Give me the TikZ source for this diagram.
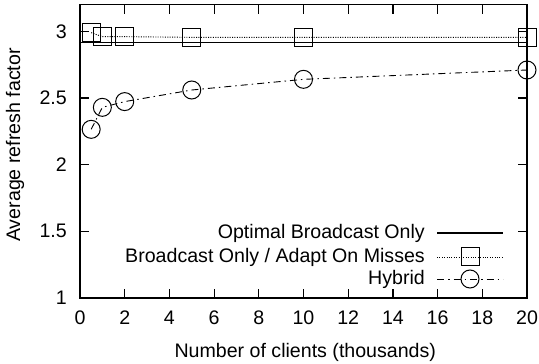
\documentclass[tikz,border=0pt]{standalone}
\usepackage{fontspec}
\setmainfont{Liberation Sans}
\usetikzlibrary{calc}
\tikzset{
  axisline/.style={line width=1.4pt, line join=miter},
  tickline/.style={line width=1.2pt},
  optline/.style={line width=1.2pt},
  dotline/.style={line width=0.9pt, dash pattern=on 1pt off 1.4pt},
  dashdotline/.style={line width=0.9pt, dash pattern=on 7pt off 4pt on 1.5pt off 4pt},
  sqmark/.style={draw, line width=1pt, rectangle, minimum size=18pt, inner sep=0pt},
  cirmark/.style={draw, line width=1pt, circle, minimum size=18pt, inner sep=0pt},
  lbl/.style={inner sep=0pt, font=\fontsize{19.6}{23}\selectfont},
}
\begin{document}
\begin{tikzpicture}
\useasboundingbox (0,0) rectangle (539pt,364pt);
\begin{scope}[x=22.35pt, y=133.33pt, shift={(80pt,-67.33pt)}]
  % frame
  \draw[axisline] (0,1) rectangle (20,3.2);
  \foreach \x in {2,4,...,18} {
    \draw[tickline] (\x,1) -- ++(0,9pt);
    \draw[tickline] (\x,3.2) -- ++(0,-9pt);
  }
  \foreach \y in {1.5,2,2.5,3} {
    \draw[tickline] (0,\y) -- ++(9pt,0);
    \draw[tickline] (20,\y) -- ++(-9pt,0);
  }
  % tick labels
  \foreach \x in {0,2,...,20} {
    \node[lbl, anchor=base, yshift=-27pt] (xl\x) at (\x,1) {\x};
  }
  \foreach \y/\t in {1/1,1.5/1.5,2/2,2.5/2.5,3/3} {
    \node[lbl, anchor=east, xshift=-13pt] (yl\t) at (0,\y) {\t};
  }
  % x axis title
  \node[lbl, anchor=base] (xtitle) at (10.08,0.555) {Number of clients (thousands)};
  % optimal broadcast only
  \coordinate (o1) at (0,2.915);
  \coordinate (o2) at (20,2.915);
  \draw[optline] (o1) -- (o2);
  % broadcast only / adapt on misses
  \foreach \i/\x/\y in {1/0.5/2.99,2/1/2.96,3/2/2.96,4/5/2.955,5/10/2.955,6/20/2.955} {
    \coordinate (sp\i) at (\x,\y);
  }
  \draw[dotline] (sp1) -- (sp2) -- (sp3) -- (sp4) -- (sp5) -- (sp6);
  \foreach \i in {1,...,6} { \node[sqmark] (s\i) at (sp\i) {}; }
  % hybrid
  \foreach \i/\x/\y in {1/0.5/2.265,2/1/2.43,3/2/2.473,4/5/2.56,5/10/2.64,6/20/2.71} {
    \coordinate (cp\i) at (\x,\y);
  }
  \draw[dashdotline] (cp1) -- (cp2) -- (cp3) -- (cp4) -- (cp5) -- (cp6);
  \foreach \i in {1,...,6} { \node[cirmark] (c\i) at (cp\i) {}; }
\end{scope}
% y title
\node[lbl, rotate=90] (ytitle) at (15pt,219pt) {Average refresh factor};
% legend
\node[lbl, anchor=east] (lt1) at (425pt,131pt) {Optimal Broadcast Only};
\node[lbl, anchor=east] (lt2) at (425pt,107pt) {Broadcast Only / Adapt On Misses};
\node[lbl, anchor=east] (lt3) at (425pt,85pt) {Hybrid};
\coordinate (la1) at (437pt,131pt); \coordinate (lb1) at (503pt,131pt);
\coordinate (la2) at (437pt,107pt); \coordinate (lb2) at (503pt,107pt);
\coordinate (la3) at (437pt,85pt);  \coordinate (lb3) at (503pt,85pt);
\draw[optline] (la1) -- (lb1);
\draw[dotline] (la2) -- (lb2);
\node[sqmark] (lm2) at (470pt,107pt) {};
\draw[dashdotline] (la3) -- (lb3);
\node[cirmark] (lm3) at (470pt,85pt) {};
\end{tikzpicture}
\end{document}
